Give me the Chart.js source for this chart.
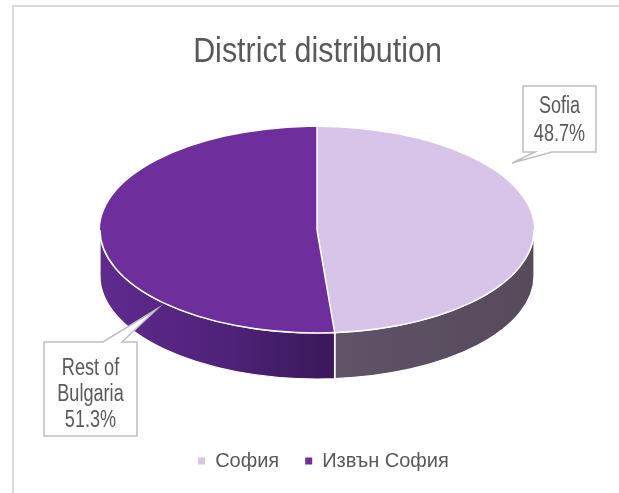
<!DOCTYPE html>
<html>
<head>
<meta charset="utf-8">
<title>District distribution</title>
<script src="https://cdn.jsdelivr.net/npm/chart.js@4.4.1/dist/chart.umd.min.js"></script>
<style>
  html, body { margin: 0; padding: 0; background: #fff; }
  #wrap { position: relative; width: 619px; height: 493px; }
</style>
</head>
<body>
<div id="wrap"><canvas id="districtChart" width="619" height="493"></canvas></div>
<script>
const districts = ['София', 'Извън София'];
const calloutNames = [['Sofia'], ['Rest of', 'Bulgaria']];
const shares = [48.7, 51.3];
const chartTitle = 'District distribution';

const topColors = ['#D9C4E9', '#6E2E9C'];
const sideColors = [['#61546A', '#564A5B'], ['#5F2A8E', '#2C1143']];
const textColor = '#595959';
const FONT = "'Liberation Sans', Arial, sans-serif";

// flattened pie placement (top face ellipse + thickness)
const pie = { cx: 317, cy: 230, rx: 217, ry: 103, depth: 46 };

// callout boxes; wedge base sits on one edge, tip points into the slice
const callouts = [
    { x: 523, y: 86, w: 73, h: 66, edge: 'bottom', base: [552, 535], tip: [512, 163], lines: [113, 141] },
    { x: 44, y: 342, w: 93, h: 94, edge: 'top', base: [103, 122], tip: [157, 309], lines: [375, 401, 427] }
];

// condensed text: the face is squeezed horizontally around its anchor
function condensedText(ctx, text, x, y, size, squeeze) {
    ctx.save();
    ctx.translate(x, y);
    ctx.scale(squeeze, 1);
    ctx.font = size + 'px ' + FONT;
    ctx.textAlign = 'center';
    ctx.textBaseline = 'alphabetic';
    ctx.fillStyle = textColor;
    ctx.fillText(text, 0, 0);
    ctx.restore();
}

function drawSides(ctx, arcs) {
    const { cx, cy, rx, ry, depth } = pie;
    arcs.forEach((arc, i) => {
        // only the front half of the rim is visible
        const a0 = Math.max(arc.startAngle, 0);
        const a1 = Math.min(arc.endAngle, Math.PI);
        if (a1 <= a0) return;
        const grad = ctx.createLinearGradient(cx - rx, 0, cx + rx, 0);
        if (i === 0) {
            grad.addColorStop(0.5, sideColors[i][0]);
            grad.addColorStop(1, sideColors[i][1]);
        } else {
            grad.addColorStop(0, sideColors[i][0]);
            grad.addColorStop(0.3, '#4E2278');
            grad.addColorStop(0.7, sideColors[i][1]);
        }
        ctx.beginPath();
        ctx.ellipse(cx, cy, rx, ry, 0, a0, a1);
        ctx.ellipse(cx, cy + depth, rx, ry, 0, a1, a0, true);
        ctx.closePath();
        ctx.fillStyle = grad;
        ctx.fill();
        ctx.strokeStyle = '#ffffff';
        ctx.lineWidth = 1.2;
        ctx.stroke();
    });
}

function drawTop(ctx, arcs) {
    const { cx, cy, rx, ry } = pie;
    const a = arcs[0];
    const R = a.outerRadius;
    ctx.save();
    ctx.translate(cx, cy);
    ctx.scale(rx / R, ry / R);
    ctx.translate(-a.x, -a.y);
    arcs.forEach(arc => arc.draw(ctx));
    ctx.restore();

    // white seams: front rim and slice dividers
    ctx.strokeStyle = '#ffffff';
    ctx.lineWidth = 1.5;
    ctx.beginPath();
    ctx.ellipse(cx, cy, rx, ry, 0, 0, Math.PI);
    ctx.stroke();
    arcs.forEach(arc => {
        const s = arc.startAngle;
        const x = cx + rx * Math.cos(s), y = cy + ry * Math.sin(s);
        ctx.beginPath();
        ctx.moveTo(cx, cy);
        ctx.lineTo(x, y);
        // divider continues down the rim when it is on the front
        if (s > 0 && s < Math.PI) ctx.lineTo(x, y + pie.depth);
        ctx.stroke();
    });
}

function drawCallouts(ctx) {
    callouts.forEach((c, i) => {
        const r = c.x + c.w, b = c.y + c.h;
        ctx.beginPath();
        if (c.edge === 'bottom') {
            ctx.moveTo(c.x, c.y);
            ctx.lineTo(r, c.y);
            ctx.lineTo(r, b);
            ctx.lineTo(c.base[0], b);
            ctx.lineTo(c.tip[0], c.tip[1]);
            ctx.lineTo(c.base[1], b);
            ctx.lineTo(c.x, b);
        } else {
            ctx.moveTo(c.x, c.y);
            ctx.lineTo(c.base[0], c.y);
            ctx.lineTo(c.tip[0], c.tip[1]);
            ctx.lineTo(c.base[1], c.y);
            ctx.lineTo(r, c.y);
            ctx.lineTo(r, b);
            ctx.lineTo(c.x, b);
        }
        ctx.closePath();
        ctx.fillStyle = '#ffffff';
        ctx.fill();
        ctx.strokeStyle = '#BFBFBF';
        ctx.lineWidth = 1.5;
        ctx.stroke();

        const text = calloutNames[i].concat([shares[i].toFixed(1) + '%']);
        text.forEach((t, k) => condensedText(ctx, t, c.x + c.w / 2, c.lines[k], 23.5, 0.77));
    });
}

const pie3d = {
    id: 'pie3d',
    beforeDraw(chart) {
        const ctx = chart.ctx;
        ctx.save();
        ctx.fillStyle = '#ffffff';
        ctx.fillRect(0, 0, chart.width, chart.height);
        // chart frame (left and top edges)
        ctx.fillStyle = '#D9D9D9';
        ctx.fillRect(12, 5, chart.width - 12, 2);
        ctx.fillRect(12, 5, 2, chart.height - 5);
        ctx.restore();
    },
    beforeDatasetsDraw(chart) {
        const ctx = chart.ctx;
        const arcs = chart.getDatasetMeta(0).data;
        ctx.save();
        drawSides(ctx, arcs);
        drawTop(ctx, arcs);
        ctx.restore();
        return false;
    },
    afterDraw(chart) {
        const ctx = chart.ctx;
        condensedText(ctx, chartTitle, 317.5, 61.5, 35, 0.87);
        drawCallouts(ctx);
    }
};

new Chart(document.getElementById('districtChart'), {
    type: 'pie',
    data: {
        labels: districts,
        datasets: [{
            data: shares,
            backgroundColor: topColors,
            borderWidth: 0
        }]
    },
    options: {
        responsive: false,
        animation: false,
        devicePixelRatio: 1,
        layout: { padding: { left: 28, right: 0, top: 70, bottom: 12 } },
        plugins: {
            title: { display: false },
            legend: {
                position: 'bottom',
                labels: {
                    color: textColor,
                    font: { family: FONT, size: 20 },
                    boxWidth: 7,
                    boxHeight: 7,
                    padding: 26
                }
            },
            tooltip: { enabled: false }
        }
    },
    plugins: [pie3d]
});
</script>
</body>
</html>
